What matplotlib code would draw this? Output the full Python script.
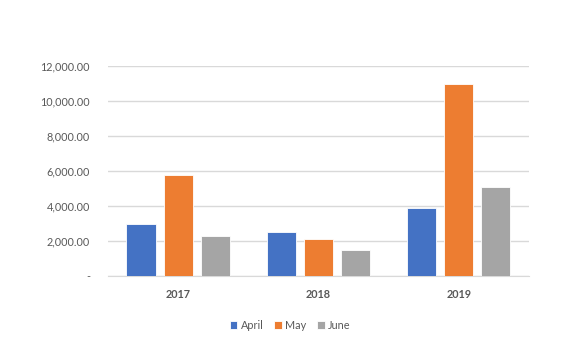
import numpy as np
import matplotlib.pyplot as plt
from matplotlib.ticker import FuncFormatter

# data
years = ["2017", "2018", "2019"]
april = [2950, 2500, 3880]
may = [5780, 2130, 10950]
june = [2300, 1500, 5080]
series_names = ["April", "May", "June"]
colors = ["#4472C4", "#ED7D31", "#A5A5A5"]

plt.rcParams['font.family'] = ['Lato', 'DejaVu Sans']

fig = plt.figure(figsize=(5.8, 3.53), dpi=100)
ax = fig.add_axes([0.186, 0.218, 0.726, 0.595])

x = np.arange(len(years))
width = 0.207
step = 0.264
for i, (vals, name, c) in enumerate(zip([april, may, june], series_names, colors)):
    ax.bar(x + (i - 1) * step, vals, width, color=c, label=name, zorder=3,
           edgecolor="white", linewidth=0.6)

ax.set_xlim(-0.5, 2.5)
ax.set_ylim(0, 12000)
ax.set_yticks(np.arange(0, 12001, 2000))


def fmt(v, pos):
    return "-" if v == 0 else f"{v:,.2f}"


ax.yaxis.set_major_formatter(FuncFormatter(fmt))
ax.set_xticks(x)
ax.set_xticklabels(years, fontweight="bold", fontsize=8)

ax.grid(axis="y", color="#D9D9D9", linewidth=1, zorder=0)
for s in ["top", "right", "left"]:
    ax.spines[s].set_visible(False)
ax.spines["bottom"].set_color("#D9D9D9")
ax.tick_params(axis="both", length=0, colors="#595959", labelsize=7.8)
ax.tick_params(axis="y", pad=13)
ax.tick_params(axis="x", pad=9)

fig.legend(loc="center", bbox_to_anchor=(0.5, 0.079), ncol=3, frameon=False,
           fontsize=7.8, handlelength=0.7, handleheight=0.7, handletextpad=0.3,
           columnspacing=1.0, labelcolor="#595959")

fig.savefig("out.png", dpi=100)
